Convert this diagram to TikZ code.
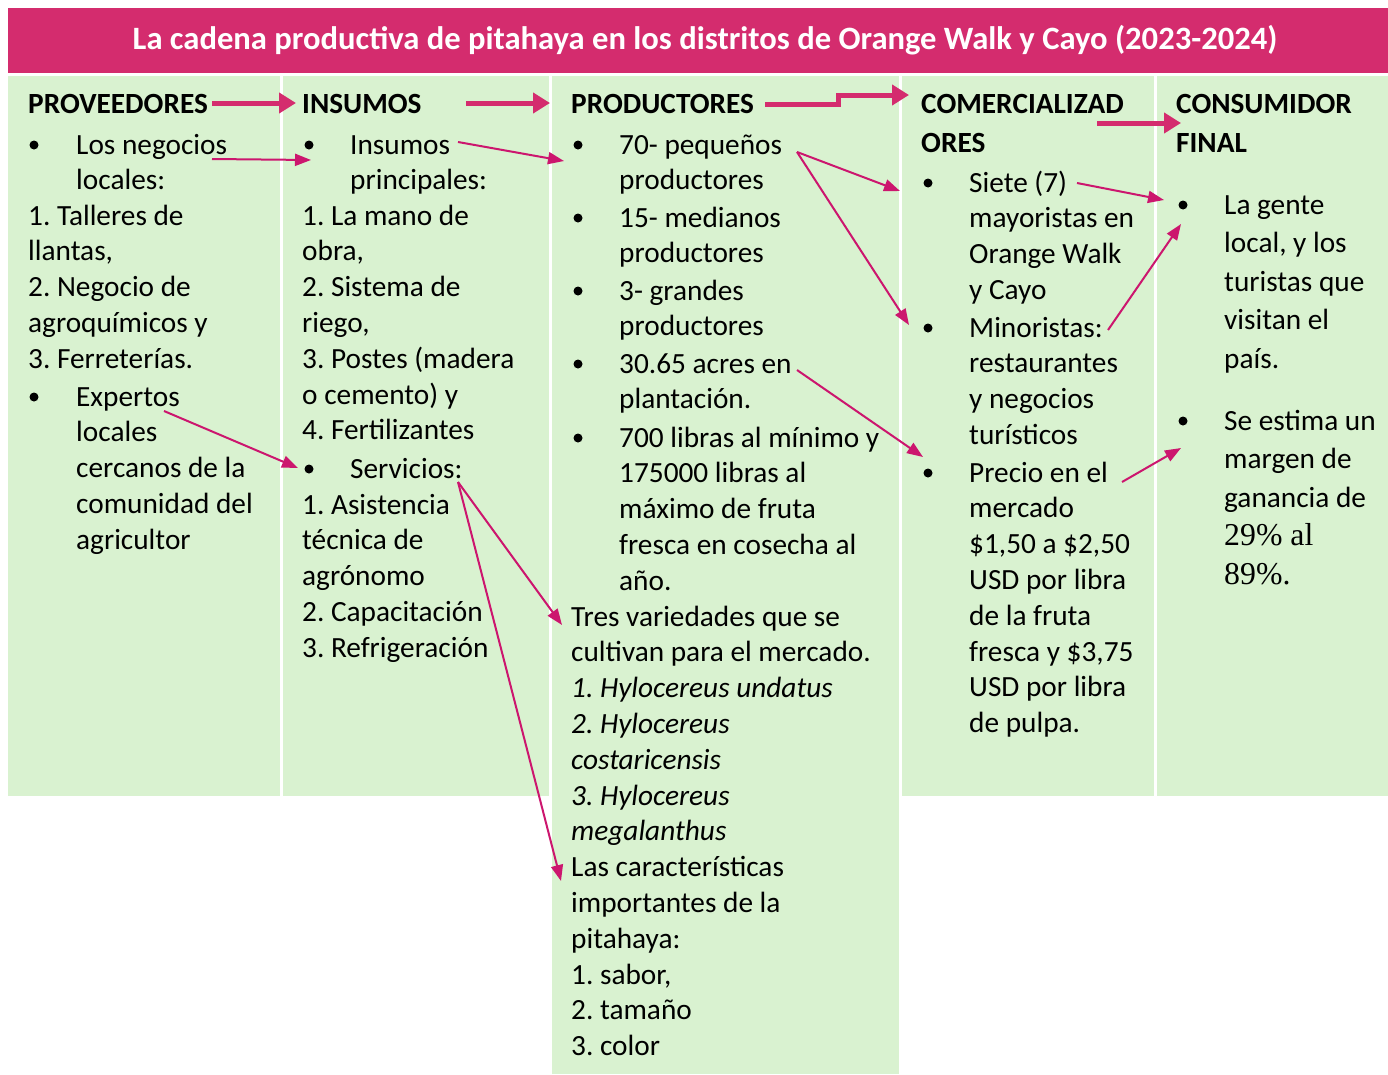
\documentclass[tikz,border=0pt]{standalone}
\usepackage{fontspec}
\setmainfont{Carlito}
\newfontfamily\tnr{Liberation Serif}
\usetikzlibrary{arrows.meta}
\frenchspacing
\definecolor{titlepink}{RGB}{212,44,110}
\definecolor{arrowpink}{RGB}{204,22,110}
\definecolor{cellgreen}{RGB}{217,242,208}
\newcommand{\lns}[1]{\begin{tabular}[t]{@{}l@{}}#1\end{tabular}}
\tikzset{
  txt/.style={anchor=base west, inner sep=0pt, font=\fontsize{29.3}{35.8}\selectfont},
  txtwide/.style={anchor=base west, inner sep=0pt, font=\fontsize{29.3}{38.6}\selectfont},
  hdr/.style={anchor=base west, inner sep=0pt, font=\fontsize{29.3}{39.5}\selectfont\bfseries},
  bigarrow/.style={draw=titlepink, line width=5pt, line join=miter, -{Triangle[length=17pt,width=20pt]}},
  thinarrow/.style={draw=arrowpink, line width=2pt, -{Triangle[length=16pt,width=12pt]}},
  bul/.style={circle, fill=black, inner sep=0pt, minimum size=9pt}
}
\begin{document}
\begin{tikzpicture}[x=1pt,y=-1pt]
\useasboundingbox (0,0) rectangle (1388,1074);
% backgrounds
\fill[titlepink] (8,8) rectangle (1388,73);
\fill[cellgreen] (8,76) rectangle (280,796);
\fill[cellgreen] (283,76) rectangle (549,796);
\fill[cellgreen] (552,76) rectangle (899,1074);
\fill[cellgreen] (902,76) rectangle (1154,796);
\fill[cellgreen] (1157,76) rectangle (1388,796);
% title
\node[anchor=base, inner sep=0pt, text=white, font=\fontsize{32.6}{38}\selectfont\bfseries] (title) at (705,49)
  {La cadena productiva de pitahaya en los distritos de Orange Walk y Cayo (2023-2024)};
% column 1
\node[hdr] (h1) at (28,113) {PROVEEDORES};
\node[bul] (u1a) at (34,145) {};
\node[txt] (p1a) at (76,154) {\lns{Los negocios\\locales:}};
\node[txt] (p1b) at (28,225) {\lns{1. Talleres de\\llantas,\\2. Negocio de\\agroquímicos y\\3. Ferreterías.}};
\node[bul] (u1b) at (34,397) {};
\node[txt] (p1c) at (76,406) {\lns{Expertos\\locales\\cercanos de la\\comunidad del\\agricultor}};
% column 2
\node[hdr] (h2) at (302,113) {INSUMOS};
\node[bul] (u2a) at (309,145) {};
\node[txt] (p2a) at (350,154) {\lns{Insumos\\principales:}};
\node[txt] (p2b) at (302,225) {\lns{1. La mano de\\obra,\\2. Sistema de\\riego,\\3. Postes (madera\\o cemento) y\\4. Fertilizantes}};
\node[bul] (u2b) at (309,469) {};
\node[txt] (p2c) at (350,478) {Servicios:};
\node[txt] (p2d) at (302,514) {\lns{1. Asistencia\\técnica de\\agrónomo\\2. Capacitación\\3. Refrigeración}};
% column 3
\node[hdr] (h3) at (571,113) {PRODUCTORES};
\node[bul] (u3a) at (578,145) {};
\node[txt] (p3a) at (619,154) {\lns{70- pequeños\\productores}};
\node[bul] (u3b) at (578,218) {};
\node[txt] (p3b) at (619,227) {\lns{15- medianos\\productores}};
\node[bul] (u3c) at (578,291) {};
\node[txt] (p3c) at (619,300) {\lns{3- grandes\\productores}};
\node[bul] (u3d) at (578,364) {};
\node[txt] (p3d) at (619,373) {\lns{30.65 acres en\\plantación.}};
\node[bul] (u3e) at (578,438) {};
\node[txt] (p3e) at (619,447) {\lns{700 libras al mínimo y\\175000 libras al\\máximo de fruta\\fresca en cosecha al\\año.}};
\node[txt] (p3f) at (571,626) {\lns{Tres variedades que se\\cultivan para el mercado.\\\textit{1. Hylocereus undatus}\\\textit{2. Hylocereus}\\\textit{costaricensis}\\\textit{3. Hylocereus}\\\textit{megalanthus}\\Las características\\importantes de la\\pitahaya:\\1. sabor,\\2. tamaño\\3. color}};
% column 4
\node[hdr] (h4) at (921,113) {\lns{COMERCIALIZAD\\ORES}};
\node[bul] (u4a) at (928,183) {};
\node[txt] (p4a) at (969,192) {\lns{Siete (7)\\mayoristas en\\Orange Walk\\y Cayo}};
\node[bul] (u4b) at (928,328) {};
\node[txt] (p4b) at (969,337) {\lns{Minoristas:\\restaurantes\\y negocios\\turísticos}};
\node[bul] (u4c) at (928,473) {};
\node[txt] (p4c) at (969,482) {\lns{Precio en el\\mercado\\\$1,50 a \$2,50\\USD por libra\\de la fruta\\fresca y \$3,75\\USD por libra\\de pulpa.}};
% column 5
\node[hdr] (h5) at (1176,113) {\lns{CONSUMIDOR\\FINAL}};
\node[bul] (u5a) at (1183,205) {};
\node[txtwide] (p5a) at (1224,214) {\lns{La gente\\local, y los\\turistas que\\visitan el\\país.}};
\node[bul] (u5b) at (1183,421) {};
\node[txtwide] (p5b) at (1224,430) {\lns{Se estima un\\margen de\\ganancia de\\{\tnr\fontsize{31.8}{38.6}\selectfont 29\% al}\\{\tnr\fontsize{31.8}{38.6}\selectfont 89\%.}}};
% arrow end points
\coordinate (a1s) at (212,103); \coordinate (a1e) at (296,103);
\coordinate (a2s) at (466,103); \coordinate (a2e) at (550,103);
\coordinate (a3s) at (765,104); \coordinate (a3m1) at (838,104); \coordinate (a3m2) at (838,95); \coordinate (a3e) at (909,95);
\coordinate (a4s) at (1097,123); \coordinate (a4e) at (1181,123);
\coordinate (b1s) at (212,159); \coordinate (b1e) at (311,160);
\coordinate (b2s) at (458,142); \coordinate (b2e) at (564,161);
\coordinate (b3s) at (797,152); \coordinate (b3e) at (900,191);
\coordinate (b4e) at (909,325);
\coordinate (b5s) at (1077,183); \coordinate (b5e) at (1164,200);
\coordinate (b6s) at (1108,330); \coordinate (b6e) at (1181,224);
\coordinate (b7s) at (797,370); \coordinate (b7e) at (923,457);
\coordinate (b8s) at (1122,482); \coordinate (b8e) at (1181,448);
\coordinate (b9s) at (164,411); \coordinate (b9e) at (298,468);
\coordinate (b10s) at (458,482); \coordinate (b10e) at (562,625);
\coordinate (b11e) at (561,881);
% thick arrows
\draw[bigarrow] (a1s) -- (a1e);
\draw[bigarrow] (a2s) -- (a2e);
\draw[bigarrow] (a3s) -- (a3m1) -- (a3m2) -- (a3e);
\draw[bigarrow] (a4s) -- (a4e);
% thin arrows
\draw[thinarrow] (b1s) -- (b1e);
\draw[thinarrow] (b2s) -- (b2e);
\draw[thinarrow] (b3s) -- (b3e);
\draw[thinarrow] (b3s) -- (b4e);
\draw[thinarrow] (b5s) -- (b5e);
\draw[thinarrow] (b6s) -- (b6e);
\draw[thinarrow] (b7s) -- (b7e);
\draw[thinarrow] (b8s) -- (b8e);
\draw[thinarrow] (b9s) -- (b9e);
\draw[thinarrow] (b10s) -- (b10e);
\draw[thinarrow] (b10s) -- (b11e);
\end{tikzpicture}
\end{document}
